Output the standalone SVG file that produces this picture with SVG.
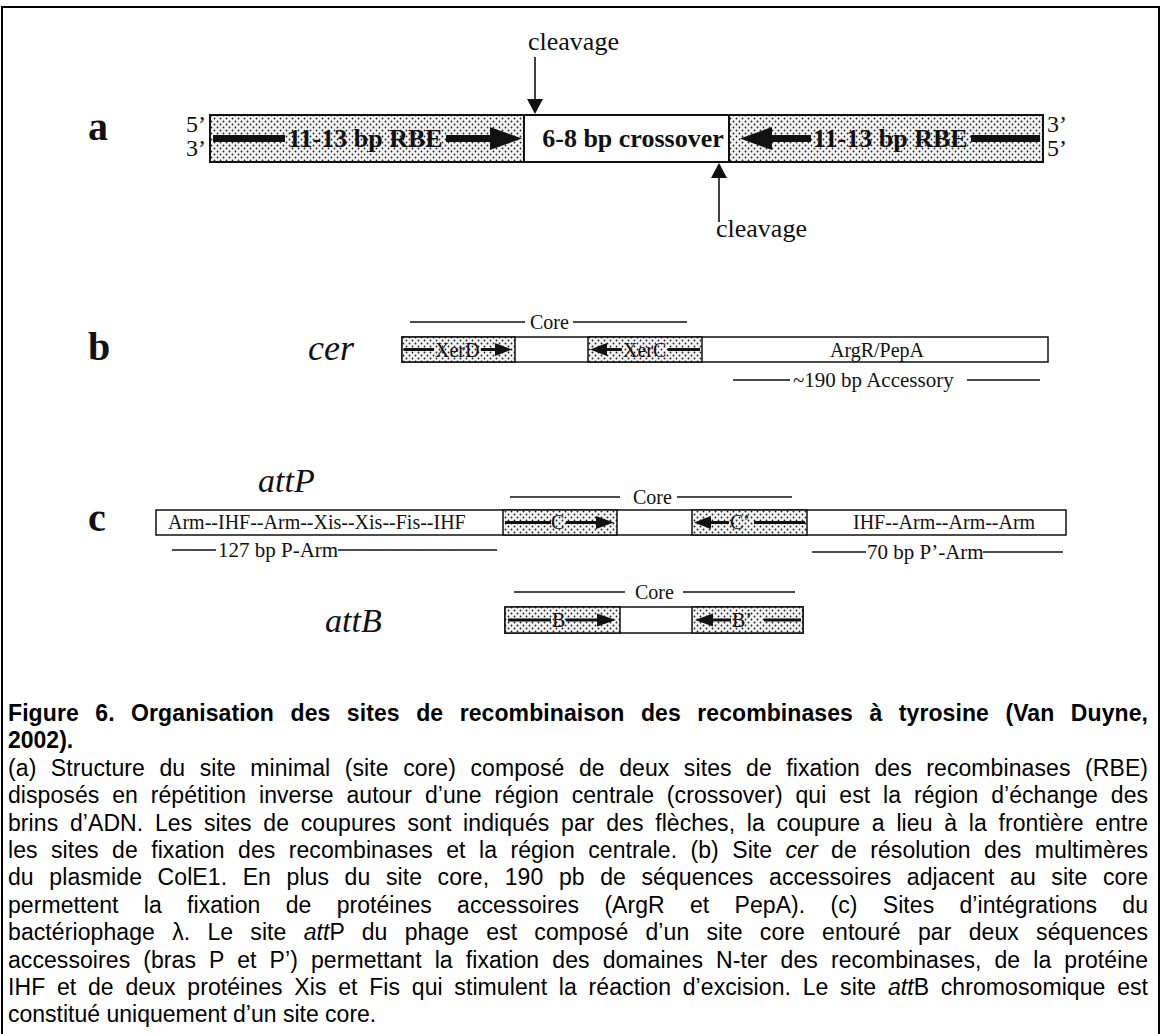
<svg xmlns="http://www.w3.org/2000/svg" width="1162" height="1034" viewBox="0 0 1162 1034">
<style>
.ser{font-family:"Liberation Serif","Times New Roman",serif;fill:#111}
.lbl{font-family:"Liberation Serif","Times New Roman",serif;font-weight:bold;font-size:40px;fill:#111}
.big{font-family:"Liberation Serif","Times New Roman",serif;font-weight:bold;font-size:26px;fill:#111}
.sm{font-family:"Liberation Serif","Times New Roman",serif;font-size:20px;fill:#111}
.ann{font-family:"Liberation Serif","Times New Roman",serif;font-size:21px;fill:#111}
.it{font-family:"Liberation Serif","Times New Roman",serif;font-style:italic;fill:#111}
.cap{font-family:"Liberation Sans",Arial,sans-serif;font-size:23px;fill:#000}
.capb{font-family:"Liberation Sans",Arial,sans-serif;font-size:23px;font-weight:bold;fill:#000}
.box{fill:#fff;stroke:#111;stroke-width:1.5}
.boxa{fill:#fff;stroke:#111;stroke-width:2}
.dot{fill:url(#dots);stroke:#111;stroke-width:1.5}
.dota{fill:url(#dots);stroke:#111;stroke-width:2}
.ln{stroke:#111;stroke-width:1.6;fill:none}
.sh{fill:#111}
</style>
<defs>
<pattern id="dots" width="6" height="6" patternUnits="userSpaceOnUse">
<rect width="6" height="6" fill="#f4f4f4"/>
<circle cx="1.5" cy="1.5" r="0.9" fill="#222"/>
<circle cx="4.5" cy="4.5" r="0.9" fill="#222"/>
</pattern>
</defs>
<rect x="0" y="0" width="1162" height="1034" fill="#fff"/>
<rect x="2" y="7" width="1157" height="1040" fill="none" stroke="#000" stroke-width="2"/>

<!-- row a -->
<text class="lbl" x="88" y="140">a</text>
<g id="a-site">
<text class="ser" x="186" y="132" font-size="24">5’</text>
<text class="ser" x="186" y="156" font-size="24">3’</text>
<text class="ser" x="1047" y="132" font-size="24">3’</text>
<text class="ser" x="1047" y="156" font-size="24">5’</text>
<g id="a-rbe-left">
<rect class="dota" x="210" y="115" width="314" height="47"/>
<rect class="sh" x="213" y="135" width="72" height="7"/>
<text class="big" x="288" y="147">11-13 bp RBE</text>
<rect class="sh" x="446" y="135" width="46" height="7"/>
<polygon class="sh" points="490,127 522,138.5 490,150"/>
</g>
<g id="a-crossover">
<rect class="boxa" x="524" y="115" width="205" height="47"/>
<text class="big" x="633" y="147" text-anchor="middle">6-8 bp crossover</text>
</g>
<g id="a-rbe-right">
<rect class="dota" x="729" y="115" width="314" height="47"/>
<polygon class="sh" points="740,138.5 772,127 772,150"/>
<rect class="sh" x="770" y="135" width="41" height="7"/>
<text class="big" x="813" y="147">11-13 bp RBE</text>
<rect class="sh" x="971" y="135" width="69" height="7"/>
</g>
</g>

<!-- row b -->
<text class="lbl" x="88" y="360">b</text>
<text class="it" x="308" y="360" font-size="36">cer</text>
<g id="cer-site">
<rect class="box" x="402" y="337" width="646" height="25"/>
<g id="cer-xerd">
<rect class="dot" x="402" y="337" width="113" height="25"/>
<rect class="sh" x="404" y="348" width="30" height="3"/>
<text class="sm" x="435" y="357">XerD</text>
<rect class="sh" x="481" y="348" width="16" height="3"/>
<polygon class="sh" points="495,343 512,349.5 495,356"/>
</g>
<g id="cer-xerc">
<rect class="dot" x="588" y="337" width="114" height="25"/>
<polygon class="sh" points="590,349.5 607,343 607,356"/>
<rect class="sh" x="606" y="348" width="16" height="3"/>
<text class="sm" x="623" y="357">XerC</text>
<rect class="sh" x="668" y="348" width="32" height="3"/>
</g>
<text class="sm" x="877" y="357" text-anchor="middle">ArgR/PepA</text>
</g>

<!-- row c -->
<text class="lbl" x="88" y="531">c</text>
<text class="it" x="258" y="492" font-size="34">attP</text>
<g id="attP-site">
<rect class="box" x="156" y="510" width="910" height="25"/>
<text class="sm" x="168" y="529">Arm--IHF--Arm--Xis--Xis--Fis--IHF</text>
<g id="attP-C">
<rect class="dot" x="503" y="510" width="114" height="25"/>
<rect class="sh" x="505" y="521" width="46" height="3"/>
<text class="sm" x="551" y="529">C</text>
<rect class="sh" x="566" y="521" width="32" height="3"/>
<polygon class="sh" points="596,516 614,522.5 596,529"/>
</g>
<g id="attP-Cp">
<rect class="dot" x="692" y="510" width="115" height="25"/>
<polygon class="sh" points="694,522.5 711,516 711,529"/>
<rect class="sh" x="709" y="521" width="20" height="3"/>
<text class="sm" x="730" y="529">C’</text>
<rect class="sh" x="754" y="521" width="51" height="3"/>
</g>
<text class="sm" x="853" y="529">IHF--Arm--Arm--Arm</text>
</g>

<!-- attB -->
<text class="it" x="325" y="632" font-size="34">attB</text>
<g id="attB-site">
<rect class="box" x="505" y="607" width="298" height="26"/>
<g id="attB-B">
<rect class="dot" x="505" y="607" width="115" height="26"/>
<rect class="sh" x="508" y="618.5" width="43" height="3"/>
<text class="sm" x="552" y="627">B</text>
<rect class="sh" x="566" y="618.5" width="33" height="3"/>
<polygon class="sh" points="597,613.5 616,620 597,626.5"/>
</g>
<g id="attB-Bp">
<rect class="dot" x="692" y="607" width="111" height="26"/>
<polygon class="sh" points="695,620 713,613.5 713,626.5"/>
<rect class="sh" x="711" y="618.5" width="20" height="3"/>
<text class="sm" x="732" y="627">B’</text>
<rect class="sh" x="764" y="618.5" width="37" height="3"/>
</g>
</g>

<!-- connectors / annotation lines -->
<g id="connectors">
<line class="ln" x1="535" y1="57" x2="535" y2="101"/>
<polygon class="sh" points="527,99 543,99 535,114"/>
<line class="ln" x1="719" y1="176" x2="719" y2="222"/>
<polygon class="sh" points="711,178 727,178 719,163"/>
<line class="ln" x1="410" y1="322" x2="525" y2="322"/>
<line class="ln" x1="573" y1="322" x2="687" y2="322"/>
<line class="ln" x1="733" y1="380" x2="790" y2="380"/>
<line class="ln" x1="967" y1="380" x2="1040" y2="380"/>
<line class="ln" x1="510" y1="497" x2="620" y2="497"/>
<line class="ln" x1="677" y1="497" x2="792" y2="497"/>
<line class="ln" x1="172" y1="550" x2="216" y2="550"/>
<line class="ln" x1="338" y1="550" x2="497" y2="550"/>
<line class="ln" x1="812" y1="552" x2="866" y2="552"/>
<line class="ln" x1="983" y1="552" x2="1063" y2="552"/>
<line class="ln" x1="514" y1="592" x2="625" y2="592"/>
<line class="ln" x1="683" y1="592" x2="795" y2="592"/>
</g>

<!-- labels -->
<text class="ser" x="528" y="50" font-size="26">cleavage</text>
<text class="ser" x="716" y="237" font-size="26">cleavage</text>
<text class="sm" x="530" y="329">Core</text>
<text class="ann" x="793" y="387">~190 bp Accessory</text>
<text class="sm" x="633" y="504">Core</text>
<text class="ann" x="218" y="557">127 bp P-Arm</text>
<text class="ann" x="867" y="559">70 bp P’-Arm</text>
<text class="sm" x="635" y="599">Core</text>

<!-- caption -->
<g id="caption">
<text class="capb" x="8" y="721" word-spacing="10" textLength="1140" lengthAdjust="spacing">Figure 6. Organisation des sites de recombinaison des recombinases à tyrosine (Van Duyne,</text>
<text class="capb" x="8" y="748.4">2002).</text>
<text class="cap" x="8" y="775.8" word-spacing="8" textLength="1140" lengthAdjust="spacing">(a) Structure du site minimal (site core) composé de deux sites de fixation des recombinases (RBE)</text>
<text class="cap" x="8" y="803.2" word-spacing="6.4" textLength="1140" lengthAdjust="spacing">disposés en répétition inverse autour d’une région centrale (crossover) qui est la région d’échange des</text>
<text class="cap" x="8" y="830.6" word-spacing="5.2" textLength="1140" lengthAdjust="spacing">brins d’ADN. Les sites de coupures sont indiqués par des flèches, la coupure a lieu à la frontière entre</text>
<text class="cap" x="8" y="858" word-spacing="6.9" textLength="1140" lengthAdjust="spacing">les sites de fixation des recombinases et la région centrale. (b) Site <tspan font-style="italic">cer</tspan> de résolution des multimères</text>
<text class="cap" x="8" y="885.4" word-spacing="9.1" textLength="1140" lengthAdjust="spacing">du plasmide ColE1. En plus du site core, 190 pb de séquences accessoires adjacent au site core</text>
<text class="cap" x="8" y="912.8" word-spacing="18.8" textLength="1140" lengthAdjust="spacing">permettent la fixation de protéines accessoires (ArgR et PepA). (c) Sites d’intégrations du</text>
<text class="cap" x="8" y="940.2" word-spacing="10.7" textLength="1140" lengthAdjust="spacing">bactériophage λ. Le site <tspan font-style="italic">att</tspan>P du phage est composé d’un site core entouré par deux séquences</text>
<text class="cap" x="8" y="967.6" word-spacing="6.6" textLength="1140" lengthAdjust="spacing">accessoires (bras P et P’) permettant la fixation des domaines N-ter des recombinases, de la protéine</text>
<text class="cap" x="8" y="995" word-spacing="5.2" textLength="1140" lengthAdjust="spacing">IHF et de deux protéines Xis et Fis qui stimulent la réaction d’excision. Le site <tspan font-style="italic">att</tspan>B chromosomique est</text>
<text class="cap" x="8" y="1022.4">constitué uniquement d’un site core.</text>
</g>
</svg>
